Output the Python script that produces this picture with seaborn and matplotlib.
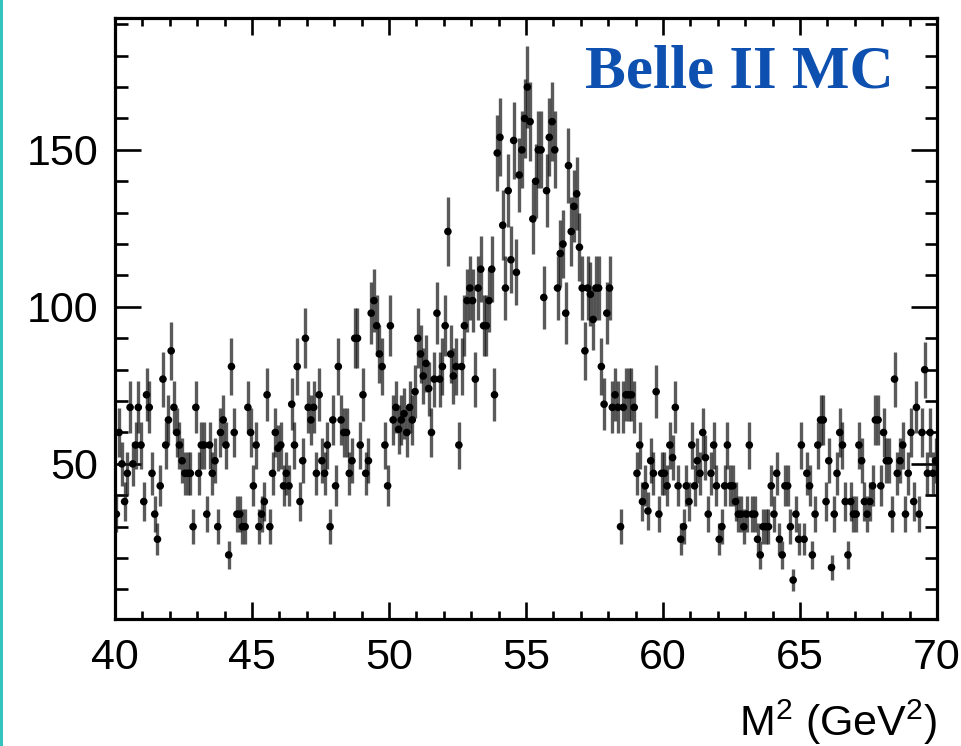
import numpy as np
import pandas as pd
import matplotlib
matplotlib.use("Agg")
import matplotlib.pyplot as plt
import seaborn as sns
from matplotlib.ticker import MultipleLocator
from matplotlib.patches import Rectangle

sns.set_theme(style="ticks")
plt.rcParams["font.family"] = ["Liberation Sans", "DejaVu Sans"]
plt.rcParams["mathtext.fontset"] = "custom"
plt.rcParams["mathtext.rm"] = "Liberation Sans"
plt.rcParams["mathtext.it"] = "Liberation Sans"
plt.rcParams["mathtext.default"] = "regular"

# ---- data: histogram of M^2, 300 bins of 0.1 GeV^2 from 40 to 70 ----
x_min, x_max, n_bins = 40.0, 70.0, 300

counts_40_45 = [34, 60, 50, 38, 47, 68, 50, 56, 68, 56,
                38, 72, 68, 47, 34, 26, 43, 77, 56, 64,
                86, 68, 60, 56, 51, 47, 47, 47, 30, 68,
                47, 56, 56, 34, 56, 47, 51, 30, 60, 64,
                56, 21, 81, 60, 34, 34, 30, 30, 68, 60]
counts_45_50 = [43, 56, 30, 34, 38, 72, 30, 47, 60, 55,
                56, 43, 47, 43, 69, 56, 81, 38, 51, 90,
                68, 64, 68, 47, 72, 51, 47, 56, 30, 64,
                43, 81, 64, 60, 60, 47, 51, 90, 90, 56,
                72, 47, 51, 98, 102, 94, 85, 81, 56, 43]
counts_50_55 = [94, 64, 68, 61, 64, 66, 60, 68, 64, 73,
                90, 85, 78, 82, 74, 60, 77, 98, 77, 81,
                94, 124, 85, 78, 81, 56, 81, 94, 102, 106,
                102, 77, 106, 112, 94, 94, 102, 112, 72, 149,
                154, 126, 106, 137, 115, 153, 111, 142, 150, 160]
counts_55_60 = [170, 159, 128, 140, 150, 150, 103, 137, 154, 159,
                150, 106, 117, 120, 98, 145, 124, 132, 136, 119,
                106, 86, 106, 104, 96, 106, 106, 81, 69, 98,
                106, 68, 72, 68, 30, 68, 72, 72, 72, 68,
                47, 56, 38, 43, 35, 51, 47, 73, 34, 47]
counts_60_65 = [47, 43, 56, 52, 68, 43, 26, 30, 43, 38,
                56, 43, 51, 47, 60, 52, 34, 47, 56, 43,
                26, 30, 43, 56, 43, 43, 38, 34, 34, 30,
                34, 56, 34, 34, 26, 21, 30, 30, 30, 43,
                34, 47, 26, 21, 43, 43, 30, 13, 34, 26]
counts_65_70 = [56, 26, 47, 43, 21, 34, 56, 64, 64, 38,
                51, 17, 34, 47, 60, 56, 38, 21, 38, 34,
                34, 56, 51, 38, 34, 38, 43, 64, 64, 43,
                60, 51, 51, 34, 77, 47, 51, 56, 34, 47,
                60, 38, 68, 34, 60, 80, 47, 60, 47, 51]

x_ticks = [40, 45, 50, 55, 60, 65, 70]
y_ticks = [50, 100, 150]
x_label = r"M$^{2}$ (GeV$^{2}$)"
tag_text = "Belle II MC"

counts = np.array(counts_40_45 + counts_45_50 + counts_50_55 +
                  counts_55_60 + counts_60_65 + counts_65_70, dtype=float)
edges = np.linspace(x_min, x_max, n_bins + 1)
centers = 0.5 * (edges[:-1] + edges[1:])
half_w = 0.5 * (edges[1] - edges[0])
df = pd.DataFrame({"m2": centers, "n": counts, "err": np.sqrt(counts)})

# ---- figure ----
W, H = 962, 746
fig = plt.figure(figsize=(W / 100, H / 100), dpi=100)
fig.patch.set_facecolor("white")
ax = fig.add_axes([115 / W, 1 - 619 / H, (937 - 115) / W, (619 - 18) / H])
ax.set_facecolor("white")

ax.errorbar(df["m2"], df["n"], yerr=df["err"], xerr=half_w, fmt="none",
            ecolor="#1a1a1a", elinewidth=2.4, alpha=0.72, capsize=0, zorder=2)
sns.scatterplot(data=df, x="m2", y="n", ax=ax, color="black", s=30,
                marker="o", edgecolor="none", linewidth=0, zorder=3, legend=False)

ax.set_xlim(x_min, x_max)
ax.set_ylim(0.6, 192)
ax.set_xticks(x_ticks)
ax.set_yticks(y_ticks)
ax.xaxis.set_minor_locator(MultipleLocator(1))
ax.yaxis.set_minor_locator(MultipleLocator(10))
ax.tick_params(which="both", direction="in", top=True, right=True,
               width=1.9, color="black", labelcolor="black")
ax.tick_params(axis="y", which="major", length=19, pad=12, labelsize=31)
ax.tick_params(axis="y", which="minor", length=9)
ax.tick_params(axis="x", which="major", length=12, pad=14, labelsize=31)
ax.tick_params(axis="x", which="minor", length=6)
for s in ax.spines.values():
    s.set_linewidth(2.3)
    s.set_color("black")

ax.set_xlabel(x_label, fontsize=31, loc="right", labelpad=14, color="black")
ax.set_ylabel("")

fig.text(585 / W, 1 - 88 / H, tag_text, family=["Liberation Serif", "DejaVu Serif"],
         weight="bold", color="#0d50b0", fontsize=44, ha="left", va="baseline")

fig.patches.append(Rectangle((0, 0), 3 / W, 1, transform=fig.transFigure,
                             facecolor="#33c4bd", edgecolor="none"))

fig.savefig("out.png", dpi=100, facecolor="white")
